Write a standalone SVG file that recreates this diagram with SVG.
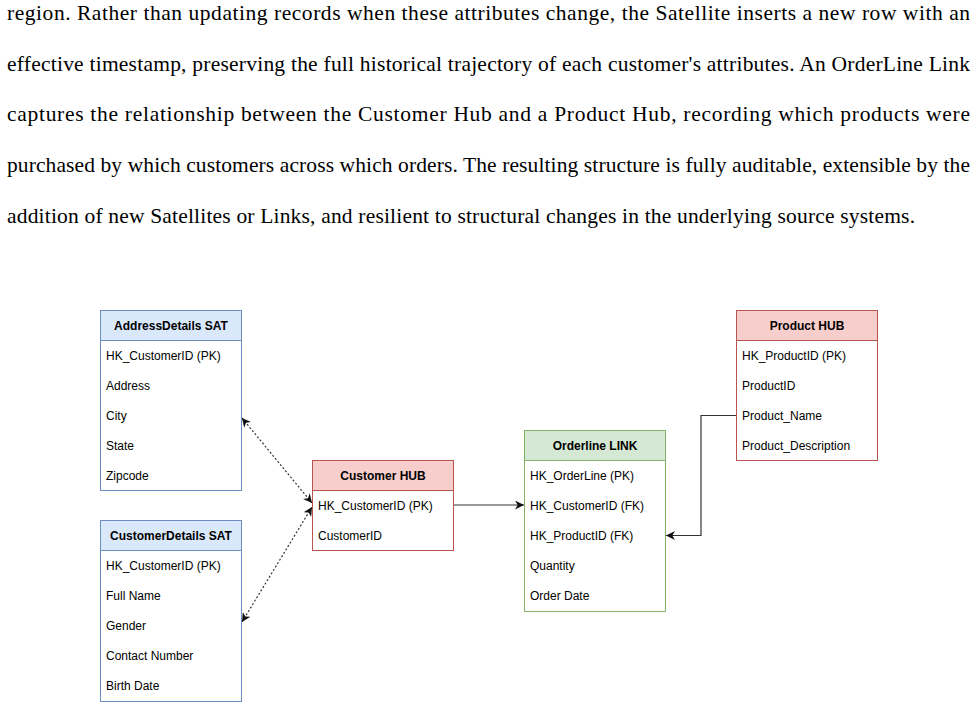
<svg xmlns="http://www.w3.org/2000/svg" width="978" height="708" viewBox="0 0 978 708">
<style>
.para{font-family:"Liberation Serif","Times New Roman",serif;font-size:21.5px;fill:#000}
.t{font-family:"Liberation Sans",Arial,sans-serif;font-size:12px;fill:#000}
.h{font-family:"Liberation Sans",Arial,sans-serif;font-size:12px;font-weight:bold;fill:#000;text-anchor:middle}
.sat{fill:#fff;stroke:#6c8ebf;stroke-width:1}
.sath{fill:#dae8fc;stroke:#6c8ebf;stroke-width:1}
.hub{fill:#fff;stroke:#b85450;stroke-width:1}
.hubh{fill:#f8cecc;stroke:#b85450;stroke-width:1}
.lnk{fill:#fff;stroke:#82b366;stroke-width:1}
.lnkh{fill:#d5e8d4;stroke:#82b366;stroke-width:1}
.c{fill:none;stroke:#333;stroke-width:1.2}
.d{fill:none;stroke:#333;stroke-width:1.2;stroke-dasharray:2 2}
</style>
<defs>
<marker id="arr" viewBox="0 0 10 10" refX="10" refY="5" markerWidth="9" markerHeight="9" markerUnits="userSpaceOnUse" orient="auto-start-reverse">
<path d="M0,0 L10,5 L0,10 L3,5 z" fill="#111"/>
</marker>
</defs>
<g id="paragraph">
<text class="para" x="7" y="20" textLength="963" lengthAdjust="spacing">region. Rather than updating records when these attributes change, the Satellite inserts a new row with an</text>
<text class="para" x="7" y="71" textLength="963" lengthAdjust="spacing">effective timestamp, preserving the full historical trajectory of each customer's attributes. An OrderLine Link</text>
<text class="para" x="7" y="121" textLength="963" lengthAdjust="spacing">captures the relationship between the Customer Hub and a Product Hub, recording which products were</text>
<text class="para" x="7" y="172" textLength="963" lengthAdjust="spacing">purchased by which customers across which orders. The resulting structure is fully auditable, extensible by the</text>
<text class="para" x="7" y="223" textLength="908" lengthAdjust="spacing">addition of new Satellites or Links, and resilient to structural changes in the underlying source systems.</text>
</g>
<g id="connectors">
<line class="d" x1="242" y1="418" x2="312" y2="503" marker-start="url(#arr)" marker-end="url(#arr)"/>
<line class="d" x1="242" y1="622" x2="312" y2="507" marker-start="url(#arr)" marker-end="url(#arr)"/>
<line class="c" x1="453" y1="505" x2="524" y2="505" marker-end="url(#arr)"/>
<polyline class="c" points="736,415.5 701,415.5 701,535.5 666,535.5" marker-end="url(#arr)"/>
</g>
<g id="address-sat">
<rect class="sat" x="100.5" y="310.5" width="141" height="180"/>
<rect class="sath" x="100.5" y="310.5" width="141" height="30"/>
<text class="h" x="171" y="329.5">AddressDetails SAT</text>
<text class="t" x="106" y="359.5">HK_CustomerID (PK)</text>
<text class="t" x="106" y="389.5">Address</text>
<text class="t" x="106" y="419.5">City</text>
<text class="t" x="106" y="449.5">State</text>
<text class="t" x="106" y="479.5">Zipcode</text>
</g>
<g id="customer-sat">
<rect class="sat" x="100.5" y="520.5" width="141" height="181"/>
<rect class="sath" x="100.5" y="520.5" width="141" height="30"/>
<text class="h" x="171" y="539.5">CustomerDetails SAT</text>
<text class="t" x="106" y="569.5">HK_CustomerID (PK)</text>
<text class="t" x="106" y="599.5">Full Name</text>
<text class="t" x="106" y="629.5">Gender</text>
<text class="t" x="106" y="659.5">Contact Number</text>
<text class="t" x="106" y="689.5">Birth Date</text>
</g>
<g id="customer-hub">
<rect class="hub" x="312.5" y="460.5" width="141" height="90"/>
<rect class="hubh" x="312.5" y="460.5" width="141" height="30"/>
<text class="h" x="383" y="479.5">Customer HUB</text>
<text class="t" x="318" y="509.5">HK_CustomerID (PK)</text>
<text class="t" x="318" y="539.5">CustomerID</text>
</g>
<g id="orderline-link">
<rect class="lnk" x="524.5" y="430.5" width="141" height="181"/>
<rect class="lnkh" x="524.5" y="430.5" width="141" height="30"/>
<text class="h" x="595" y="449.5">Orderline LINK</text>
<text class="t" x="530" y="479.5">HK_OrderLine (PK)</text>
<text class="t" x="530" y="509.5">HK_CustomerID (FK)</text>
<text class="t" x="530" y="539.5">HK_ProductID (FK)</text>
<text class="t" x="530" y="569.5">Quantity</text>
<text class="t" x="530" y="599.5">Order Date</text>
</g>
<g id="product-hub">
<rect class="hub" x="736.5" y="310.5" width="141" height="150"/>
<rect class="hubh" x="736.5" y="310.5" width="141" height="30"/>
<text class="h" x="807" y="329.5">Product HUB</text>
<text class="t" x="742" y="359.5">HK_ProductID (PK)</text>
<text class="t" x="742" y="389.5">ProductID</text>
<text class="t" x="742" y="419.5">Product_Name</text>
<text class="t" x="742" y="449.5">Product_Description</text>
</g>
</svg>
